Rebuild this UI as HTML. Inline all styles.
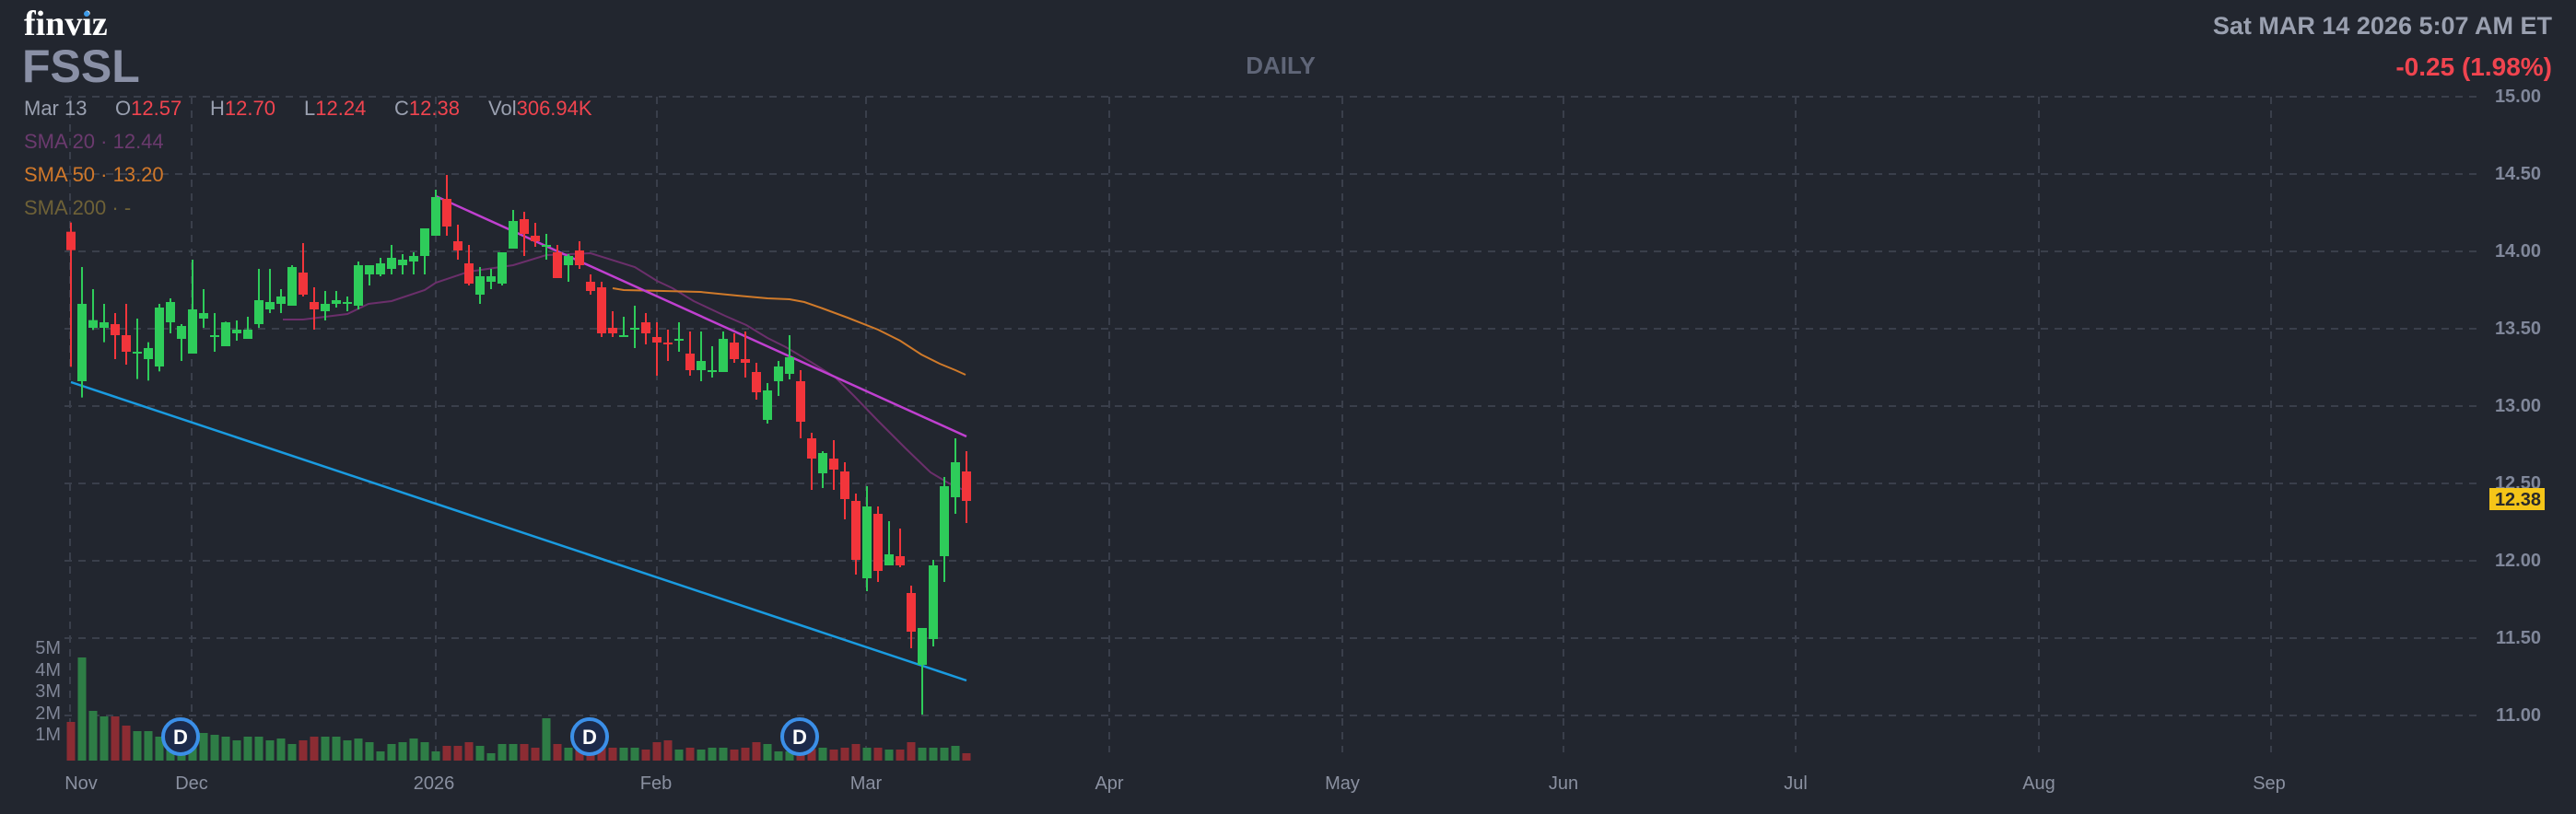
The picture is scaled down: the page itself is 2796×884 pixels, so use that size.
<!DOCTYPE html>
<html><head><meta charset="utf-8">
<style>
html,body{margin:0;padding:0;background:#22262f;}
body{width:2796px;height:884px;overflow:hidden;position:relative;font-family:"Liberation Sans",sans-serif;}
svg{position:absolute;left:0;top:0;}
</style></head>
<body>
<svg id="c" width="2796" height="884" xmlns="http://www.w3.org/2000/svg">
<rect width="2796" height="884" fill="#22262f"/>
<g id="grid" stroke="#3a3f4b" stroke-width="2" stroke-dasharray="8,7"></g>
<g id="vol"></g>
<g id="lines" fill="none"></g>
<g id="candles"></g>
<g id="badges"></g>
<g font-family="Liberation Serif, serif" font-weight="bold">
<text x="26" y="38" font-size="38" fill="#ffffff">finviz</text>
</g>
<circle cx="94" cy="15" r="3" fill="#3d9be9"/>
<text x="24" y="89" font-size="50" font-weight="bold" fill="#8a90a6">FSSL</text>
<g font-size="22">
<text x="26" y="125" fill="#9aa0b0">Mar 13</text>
<text x="125" y="125" fill="#9aa0b0">O<tspan fill="#f0444f">12.57</tspan></text>
<text x="228" y="125" fill="#9aa0b0">H<tspan fill="#f0444f">12.70</tspan></text>
<text x="330" y="125" fill="#9aa0b0">L<tspan fill="#f0444f">12.24</tspan></text>
<text x="428" y="125" fill="#9aa0b0">C<tspan fill="#f0444f">12.38</tspan></text>
<text x="530" y="125" fill="#9aa0b0">Vol<tspan fill="#f0444f">306.94K</tspan></text>
<text x="26" y="161" fill="#6b3a6e">SMA 20 · 12.44</text>
<text x="26" y="197" fill="#d0782a">SMA 50 · 13.20</text>
<text x="26" y="233" fill="#6e6137">SMA 200 ·  -</text>
</g>
<text x="1390" y="80" font-size="26" font-weight="bold" fill="#5f6577" text-anchor="middle">DAILY</text>
<text x="2770" y="37" font-size="27" font-weight="bold" fill="#9aa0b0" text-anchor="end">Sat MAR 14 2026 5:07 AM ET</text>
<text x="2770" y="82" font-size="28" font-weight="bold" fill="#f0444f" text-anchor="end">-0.25 (1.98%)</text>
<g font-size="20" font-weight="bold" fill="#80879a" text-anchor="end">
<text x="2758" y="111">15.00</text>
<text x="2758" y="195">14.50</text>
<text x="2758" y="279">14.00</text>
<text x="2758" y="363">13.50</text>
<text x="2758" y="447">13.00</text>
<text x="2758" y="531">12.50</text>
<text x="2758" y="615">12.00</text>
<text x="2758" y="699">11.50</text>
<text x="2758" y="783">11.00</text>
</g>
<rect x="2702" y="530" width="60" height="24" fill="#f5c518"/>
<text x="2758" y="549" font-size="20" font-weight="bold" fill="#2a2a2a" text-anchor="end">12.38</text>
<g font-size="20" fill="#7f8596" text-anchor="end">
<text x="66" y="710">5M</text>
<text x="66" y="734">4M</text>
<text x="66" y="757">3M</text>
<text x="66" y="781">2M</text>
<text x="66" y="804">1M</text>
</g>
<g font-size="20" fill="#8a90a0" text-anchor="middle">
<text x="88" y="857">Nov</text>
<text x="208" y="857">Dec</text>
<text x="471" y="857">2026</text>
<text x="712" y="857">Feb</text>
<text x="940" y="857">Mar</text>
<text x="1204" y="857">Apr</text>
<text x="1457" y="857">May</text>
<text x="1697" y="857">Jun</text>
<text x="1949" y="857">Jul</text>
<text x="2213" y="857">Aug</text>
<text x="2463" y="857">Sep</text>
</g>
</svg>
<script>
var NS="http://www.w3.org/2000/svg";
function el(p,t,a){var e=document.createElementNS(NS,t);for(var k in a)e.setAttribute(k,a[k]);p.appendChild(e);return e;}
var grid=document.getElementById('grid');
for(var i=0;i<9;i++){var y=105+i*84;el(grid,'line',{x1:70,y1:y,x2:2690,y2:y});}
[76,208,473,713,940,1204,1457,1697,1949,2213,2465].forEach(function(x){el(grid,'line',{x1:x,y1:105,x2:x,y2:817});});
// candles: [cropx, wickTop, bodyTop, bodyBot, wickBot, green?], zone
var z4=[[51,215,245,305,685,0],[87,360,480,732,785,1],[123,432,533,558,565,1],[159,480,540,558,605,1],[195,510,546,582,660,0],[231,480,582,636,678,0],[267,528,636,642,725,1],[303,605,624,660,730,1],[339,480,492,684,700,1],[375,462,474,540,576,1],[411,546,552,594,666,1],[447,336,498,642,642,1],[483,432,510,528,558,1],[519,510,582,588,636,1],[555,538,540,618,618,1],[591,534,564,576,600,1],[627,522,564,594,594,1],[663,366,468,546,558,1],[699,366,474,498,510,1],[735,432,456,480,510,1],[771,354,360,486,486,1],[807,282,378,450,456,0],[843,426,474,498,564,0],[879,438,480,504,534,1],[915,438,468,480,492,1],[951,456,474,480,504,1],[987,342,354,486,498,1]];
var z5=[[33,354,354,384,420,1],[69,330,348,384,390,1],[105,288,330,366,384,1],[141,318,336,354,384,1],[177,312,324,342,384,1],[213,234,234,324,384,1],[249,108,132,258,258,1],[285,60,138,228,258,0],[321,222,276,306,336,0],[357,288,348,414,420,0],[393,360,390,450,480,1],[429,366,390,408,432,1],[465,312,312,414,420,1],[501,174,210,300,300,1],[537,180,204,252,324,0],[573,216,258,276,294,0],[609,252,288,294,336,1],[645,288,312,396,396,0],[681,318,324,354,408,1],[717,276,306,354,366,0],[753,384,408,438,450,0],[789,408,426,576,588,0],[825,504,558,576,588,0],[861,522,582,588,588,1],[897,486,558,564,624,1],[933,510,540,576,612,0],[969,540,588,606,714,0]];
var z6=[[15,174,216,222,276,0],[51,150,204,210,246,1],[87,180,252,306,324,0],[123,180,276,306,342,1],[159,228,306,312,330,1],[195,180,204,312,312,1],[231,186,216,270,282,0],[267,180,270,282,330,0],[303,282,312,378,402,0],[339,348,372,468,480,1],[375,276,294,342,390,1],[411,192,264,318,336,1],[447,306,342,474,528,0],[483,510,528,594,696,0],[519,570,576,642,690,1],[555,534,594,630,696,0],[591,606,636,726,792,0],[627,708,732,924,972,0],[663,684,750,984,1026,1],[699,750,774,960,996,0],[735,798,906,942,942,1],[771,822,912,942,948,0],[807,1008,1032,1158,1212,0],[843,1146,1146,1266,1428,1],[879,924,942,1182,1206,1],[915,654,684,912,996,1],[951,528,606,720,774,1],[987,570,636,732,804,0]];
var C=[];
z4.forEach(function(c){C.push([c[0]/3+60,c[1]/3+170,c[2]/3+170,c[3]/3+170,c[4]/3+170,c[5]]);});
z5.forEach(function(c){C.push([c[0]/3+390,c[1]/3+170,c[2]/3+170,c[3]/3+170,c[4]/3+170,c[5]]);});
z6.forEach(function(c){C.push([c[0]/3+720,c[1]/3+300,c[2]/3+300,c[3]/3+300,c[4]/3+300,c[5]]);});
var GR="#2ecc5a",RD="#f2353b",VG="#2e7d46",VR="#8b2c33";
var vt=[1152,942,1116,1134,1134,1164,1182,1182,1200,1230,1240,1200,1188,1194,1200,1212,1200,1200,1212,1206,1224,1212,1200,1200,1200,1212,1206,1218,1248,1224,1218,1206,1218,1248,1230,1230,1218,1230,1254,1224,1224,1224,1236,1140,1224,1236,1240,1236,1236,1236,1236,1236,1242,1218,1212,1242,1236,1242,1236,1236,1242,1236,1218,1224,1248,1248,1240,1240,1236,1242,1236,1224,1236,1236,1242,1242,1218,1236,1236,1236,1230,1254];
var vol=document.getElementById('vol');
C.forEach(function(c,i){var t=(vt[i]||1240)/3+400;el(vol,'rect',{x:c[0]-4.5,y:t,width:9,height:826-t,fill:c[5]?VG:VR});});
var cg=document.getElementById('candles');
C.forEach(function(c){var col=c[5]?GR:RD;
el(cg,'rect',{x:c[0]-1,y:c[1],width:2,height:Math.max(1,c[4]-c[1]),fill:col});
el(cg,'rect',{x:c[0]-5,y:c[2],width:10,height:Math.max(2,c[3]-c[2]),fill:col});});
var lg=document.getElementById('lines');
function pl(pts,col,w){el(lg,'polyline',{points:pts.map(function(p){return p.join(',')}).join(' '),stroke:col,'stroke-width':w,fill:'none'});}
pl([[307,347],[329,347],[377,341],[400,330],[425,327],[461,315],[473,307],[509,295],[557,288],[593,277],[641,275],[689,290],[713,305],[730,313],[753,327],[787,343],[810,353],[833,367],[853,377],[880,393],[907,410],[927,430],[953,457],[983,487],[1010,513],[1030,525],[1048,533]],"#6b2f6b",2);
pl([[665,313],[677,315],[720,316],[760,317],[800,321],[833,324],[857,325],[873,328],[893,335],[920,345],[953,358],[977,370],[1000,385],[1020,395],[1037,402],[1048,407]],"#d07a2a",2);
pl([[77,415],[1049,739]],"#1a9be0",2.5);
pl([[473,213],[1049,474]],"#c040d0",2.5);
var bg=document.getElementById('badges');
[196,640,868].forEach(function(x){el(bg,'circle',{cx:x,cy:800,r:19,fill:'#1c2a4a',stroke:'#3b8fe8','stroke-width':4});
var t=el(bg,'text',{x:x,y:808,'font-size':22,'font-weight':'bold',fill:'#ffffff','text-anchor':'middle'});t.textContent='D';});
</script>
</body></html>
